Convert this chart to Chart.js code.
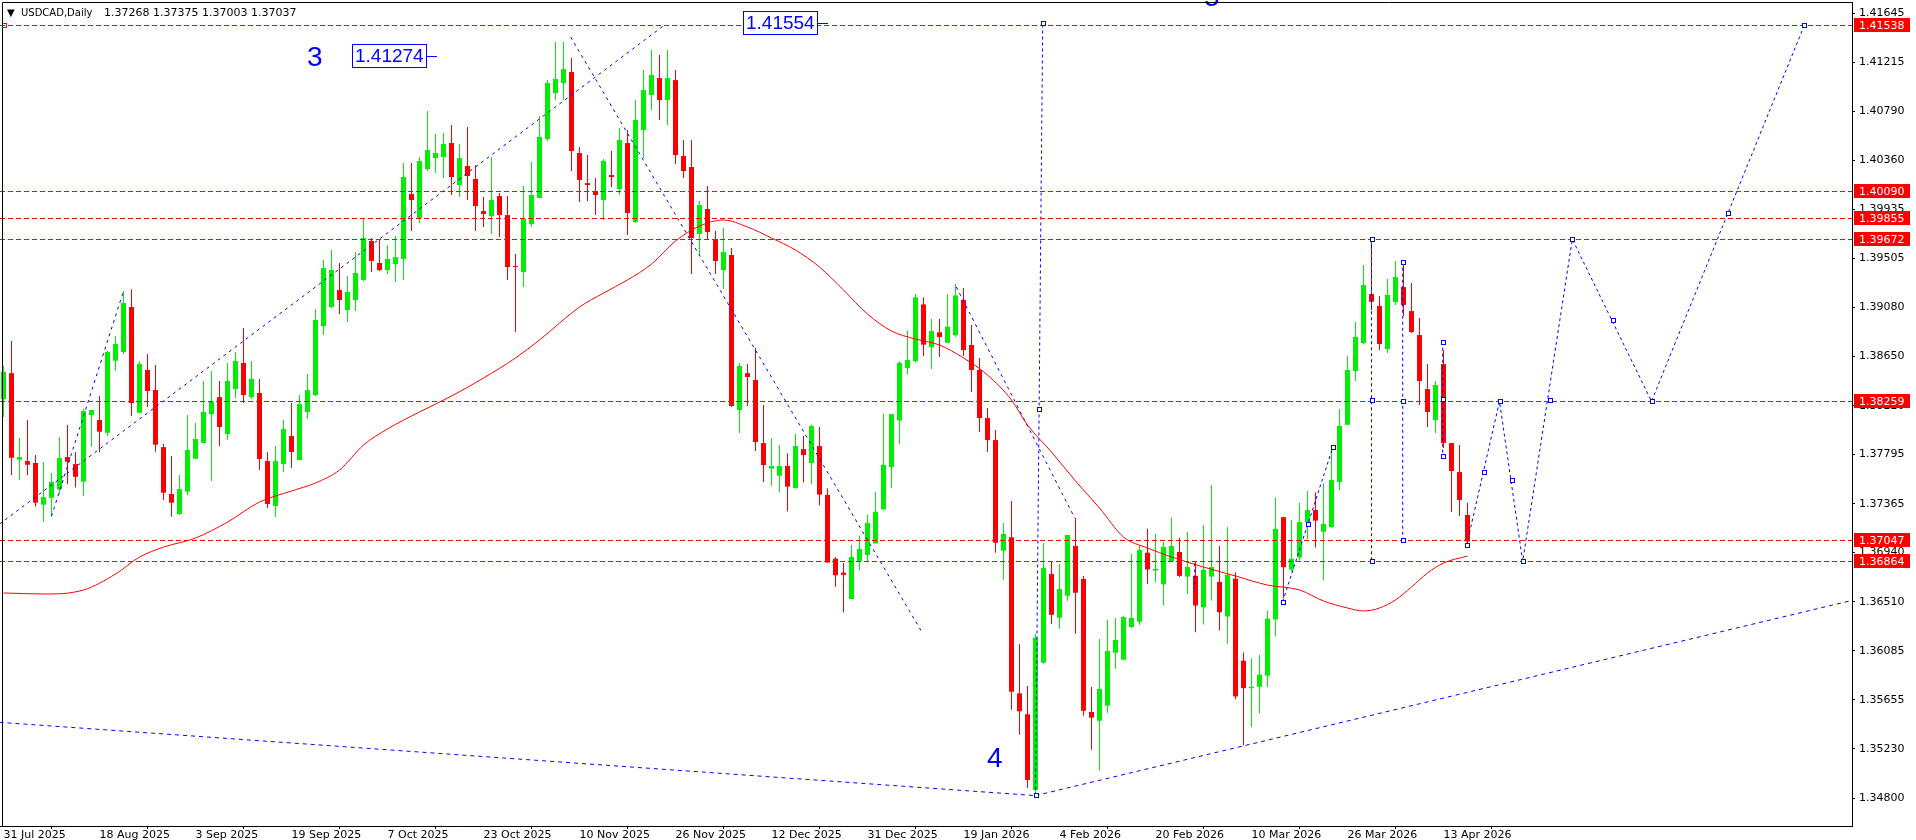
<!DOCTYPE html>
<html>
<head>
<meta charset="utf-8">
<title>USDCAD Daily</title>
<script src="https://cdn.jsdelivr.net/npm/chart.js@4.4.1/dist/chart.umd.min.js"></script>
<style>
html,body{margin:0;padding:0;background:#ffffff;overflow:hidden;}
#box{position:relative;width:1916px;height:840px;}
#c{display:block;}
</style>
</head>
<body>
<div id="box"><canvas id="c" width="1916" height="840"></canvas></div>
<script>
// ---------------- data ----------------
const symbolName = 'USDCAD,Daily';
const symbolPrices = '1.37268 1.37375 1.37003 1.37037';

const opens = [1.38279,1.38505,1.37750,1.37738,1.37721,1.37358,1.37418,1.37492,1.37773,1.37712,
1.37558,1.38139,1.38096,1.37985,1.38613,1.38689,1.39081,1.38159,1.38532,1.38358,
1.37860,1.37451,1.37277,1.37471,1.37758,1.37895,1.38148,1.38296,1.37974,1.38367,
1.38593,1.38296,1.38332,1.37738,1.37346,1.37712,1.37956,1.37747,1.38166,1.38314,
1.38915,1.39081,1.39229,1.39055,1.39142,1.39317,1.39657,1.39465,1.39404,1.39456,
1.39500,1.40066,1.39857,1.40285,1.40380,1.40389,1.40511,1.40145,1.40311,1.40198,
1.39918,1.39874,1.40049,1.39883,1.39439,1.39386,1.39805,1.40032,1.40546,1.40947,
1.41034,1.41130,1.40424,1.40162,1.40093,1.40014,1.40232,1.40110,1.40511,1.39822,
1.40624,1.40930,1.41078,1.40886,1.41060,1.40398,1.40302,1.39718,1.39936,1.39674,
1.39404,1.39535,1.38183,1.38505,1.38445,1.37895,1.37672,1.37610,1.37695,1.37502,
1.37842,1.37721,1.37869,1.37443,1.36886,1.36765,1.36535,1.36867,1.36919,1.37020,
1.37316,1.37685,1.38092,1.38550,1.38609,1.39104,1.38731,1.38861,1.38770,1.38835,
1.39142,1.38750,1.38532,1.38113,1.37921,1.36956,1.37073,1.35713,1.35530,1.34870,
1.35980,1.36753,1.36372,1.36564,1.36997,1.36710,1.35550,1.35474,1.35605,1.36067,
1.36006,1.36291,1.36337,1.36939,1.36783,1.36663,1.36864,1.36945,1.36731,1.36737,
1.36463,1.36731,1.36684,1.36383,1.36712,1.35997,1.35758,1.35770,1.35867,1.36357,
1.37249,1.36793,1.36898,1.37206,1.37311,1.37122,1.37162,1.37555,1.38055,1.38523,
1.38767,1.39195,1.39090,1.38715,1.39125,1.39255,1.39046,1.38837,1.38366,1.38096,
1.38584,1.37895,1.37642,1.37268];
const highs = [1.38569,1.38784,1.37939,1.38096,1.37790,1.37730,1.37633,1.37948,1.38052,1.37817,
1.38194,1.38183,1.38305,1.38698,1.38828,1.39220,1.39237,1.38608,1.38671,1.38575,
1.37886,1.37782,1.37616,1.38139,1.38070,1.38437,1.38524,1.38436,1.38593,1.38689,
1.38898,1.38610,1.38454,1.37817,1.37869,1.38096,1.38244,1.38314,1.38497,1.39064,
1.39491,1.39578,1.39465,1.39352,1.39561,1.39849,1.39683,1.39674,1.39622,1.39700,
1.40337,1.40337,1.40389,1.40790,1.40590,1.40598,1.40668,1.40502,1.40651,1.40320,
1.40040,1.40389,1.40075,1.40049,1.39543,1.40136,1.40346,1.40747,1.41060,1.41392,
1.41392,1.41252,1.40476,1.40406,1.40206,1.40372,1.40441,1.40642,1.40624,1.40886,
1.41148,1.41322,1.41278,1.41322,1.41148,1.40537,1.40537,1.40006,1.40136,1.39744,
1.39770,1.39596,1.38593,1.38584,1.38724,1.38227,1.37937,1.37879,1.37806,1.37974,
1.37957,1.38056,1.38036,1.37502,1.36902,1.36850,1.37008,1.37087,1.37269,1.37469,
1.38151,1.38147,1.38609,1.38878,1.39195,1.39166,1.38976,1.38976,1.39192,1.39281,
1.39247,1.38924,1.38637,1.38200,1.38009,1.37198,1.37390,1.36143,1.35777,1.36233,
1.37023,1.36858,1.36840,1.37093,1.37242,1.36736,1.35768,1.36187,1.36352,1.36370,
1.36387,1.36928,1.37006,1.37147,1.37104,1.37032,1.37249,1.37070,1.37120,1.36861,
1.37181,1.37529,1.36997,1.37162,1.36768,1.36069,1.36016,1.36050,1.36432,1.37420,
1.37249,1.37225,1.37374,1.37476,1.37467,1.37545,1.37834,1.38192,1.38657,1.38950,
1.39447,1.39674,1.39177,1.39325,1.39482,1.39474,1.39290,1.38985,1.38584,1.38436,
1.38706,1.37895,1.37878,1.37375];
const lows = [1.38124,1.37616,1.37575,1.37616,1.37341,1.37210,1.37257,1.37448,1.37537,1.37507,
1.37436,1.37863,1.37815,1.37956,1.38523,1.38671,1.38130,1.38159,1.38209,1.37820,
1.37399,1.37253,1.37268,1.37442,1.37756,1.37895,1.37564,1.37869,1.37921,1.38287,
1.38244,1.38279,1.37660,1.37329,1.37251,1.37642,1.37677,1.37747,1.38104,1.38305,
1.38837,1.39073,1.39020,1.38950,1.39046,1.39308,1.39386,1.39395,1.39369,1.39299,
1.39317,1.39744,1.39814,1.40267,1.40250,1.40206,1.40058,1.40040,1.40014,1.39744,
1.39779,1.39718,1.39692,1.39317,1.38863,1.39255,1.39779,1.40032,1.40529,1.40886,
1.40886,1.40267,1.39997,1.40006,1.39883,1.39840,1.40128,1.40058,1.39709,1.39814,
1.40380,1.40799,1.40712,1.40668,1.40328,1.40206,1.39369,1.39526,1.39665,1.39369,
1.39238,1.38209,1.37983,1.38218,1.37826,1.37555,1.37522,1.37463,1.37299,1.37502,
1.37551,1.37538,1.37352,1.36853,1.36643,1.36418,1.36535,1.36785,1.36867,1.37020,
1.37316,1.37502,1.37885,1.38494,1.38599,1.38652,1.38541,1.38645,1.38770,1.38822,
1.38654,1.38340,1.37991,1.37817,1.36939,1.36703,1.35570,1.35352,1.34887,1.34822,
1.35971,1.36320,1.36276,1.36520,1.36233,1.35518,1.35221,1.35038,1.35544,1.35928,
1.36006,1.36285,1.36311,1.36669,1.36681,1.36479,1.36864,1.36727,1.36582,1.36246,
1.36314,1.36522,1.36261,1.36146,1.35662,1.35261,1.35418,1.35537,1.35767,1.36208,
1.36544,1.36777,1.36870,1.37057,1.36985,1.36697,1.37156,1.37485,1.38055,1.38436,
1.38758,1.39055,1.38706,1.38680,1.39099,1.39003,1.38854,1.38227,1.38035,1.37983,
1.37852,1.37294,1.37259,1.37003];
const closes = [1.38517,1.37767,1.37773,1.37706,1.37375,1.37424,1.37555,1.37764,1.37732,1.37601,
1.38174,1.38183,1.37994,1.38689,1.38758,1.39116,1.38244,1.38584,1.38349,1.37881,
1.37462,1.37375,1.37494,1.37834,1.37930,1.38166,1.38253,1.38035,1.38436,1.38610,
1.38314,1.38454,1.37756,1.37364,1.37738,1.38017,1.37817,1.38235,1.38357,1.38968,
1.39421,1.39404,1.39142,1.39212,1.39378,1.39683,1.39482,1.39404,1.39500,1.39517,
1.40215,1.40014,1.40354,1.40450,1.40424,1.40502,1.40215,1.40380,1.40224,1.39962,
1.39892,1.40014,1.39883,1.39430,1.39430,1.39849,1.40058,1.40564,1.41034,1.41069,
1.41156,1.40441,1.40189,1.40145,1.40058,1.40354,1.40215,1.40537,1.39901,1.40712,
1.40973,1.41104,1.40886,1.41078,1.40406,1.40267,1.39683,1.39971,1.39735,1.39482,
1.39561,1.38218,1.38567,1.38471,1.37904,1.37703,1.37695,1.37695,1.37515,1.37869,
1.37790,1.38043,1.37446,1.36853,1.36742,1.36746,1.36902,1.36972,1.37197,1.37296,
1.37705,1.38147,1.38593,1.38619,1.39166,1.38753,1.38871,1.38819,1.38910,1.39182,
1.38706,1.38532,1.38113,1.37921,1.37026,1.37102,1.35727,1.35556,1.34957,1.36198,
1.36805,1.36398,1.36622,1.37093,1.36590,1.35561,1.35501,1.35751,1.36082,1.36178,
1.36378,1.36370,1.36962,1.36793,1.36799,1.36989,1.36997,1.36737,1.36814,1.36479,
1.36790,1.36814,1.36420,1.36746,1.35686,1.35758,1.35770,1.35876,1.36364,1.37147,
1.36812,1.36886,1.37206,1.37311,1.37219,1.37190,1.37573,1.38044,1.38532,1.38820,
1.39273,1.39127,1.38759,1.39186,1.39343,1.39099,1.38863,1.38436,1.38166,1.38401,
1.37895,1.37651,1.37399,1.37037];

// moving average (at these bar numbers)
const maBars = [0,5,10,14,17,20,24,28,32,36,39,42,45,48,52,56,60,64,67,72,75,78,81,84,87,90,93,96,99,102,105,108,111,114,117,120,123,126,128,131,134,137,140,143,146,150,154,158,162,165,168,170,172,174,176,178,180,183];
const maValues = [1.36588,1.36579,1.36614,1.36753,1.36901,1.36988,1.37067,1.37206,1.37381,1.37477,
1.37547,1.37660,1.37878,1.38018,1.38166,1.38305,1.38462,1.38637,1.38794,1.39081,
1.39203,1.39317,1.39456,1.39657,1.39787,1.39840,1.39779,1.39683,1.39578,1.39430,
1.39229,1.39020,1.38872,1.38802,1.38750,1.38637,1.38488,1.38270,1.38052,1.37817,
1.37564,1.37329,1.37076,1.36980,1.36902,1.36814,1.36736,1.36657,1.36614,1.36518,
1.36457,1.36431,1.36457,1.36527,1.36640,1.36762,1.36849,1.36910];

// axis labels
const dateBars = [0,12,24,36,48,60,72,84,96,108,120,132,144,156,168,180];
const dateLabels = ['31 Jul 2025','18 Aug 2025','3 Sep 2025','19 Sep 2025','7 Oct 2025','23 Oct 2025','10 Nov 2025','26 Nov 2025','12 Dec 2025','31 Dec 2025','19 Jan 2026','4 Feb 2026','20 Feb 2026','10 Mar 2026','26 Mar 2026','13 Apr 2026'];
const priceTicks = [1.41645,1.41215,1.40790,1.40360,1.39935,1.39505,1.39080,1.38650,1.38220,1.37795,1.37365,1.36940,1.36510,1.36085,1.35655,1.35230,1.34800];

// horizontal price levels (red dashed) and their axis boxes
const levels = [1.41538,1.40090,1.39855,1.39672,1.38259,1.37047,1.36864];

// drawn objects: [bar, price] anchors
const trendUp1 = [[-0.5,1.37189],[82.6,1.41538]];
const trendUp2 = [[6,1.37257],[15,1.39220]];
const trendDown1 = [[70.9,1.41435],[114.8,1.36247]];
const trendDown2 = [[119.1,1.39256],[133.9,1.37242]];
const baseLeft = [[-0.5,1.35460],[129,1.34821]];
const baseRight = [[129,1.34821],[231,1.36522]];
const waveVertical = [[129,1.34822],[129.9,1.41554]];
const zigLeft = [[159.9,1.36513],[166.2,1.37865]];
const vert1 = [[171,1.39672],[171,1.36864]];
const vert2 = [[174.9,1.39476],[174.9,1.37047]];
const vert3 = [[179.9,1.38779],[179.9,1.37782]];
const vert4 = [[148.9,1.36846],[148.9,1.36622]];
const zigRight = [[182.9,1.37006],[187,1.38259],[189.9,1.36864],[196.1,1.39672],[206,1.38259],[225.1,1.41538]];
const anchorMarks = [[129,1.34822],[129.45,1.38188],[129.9,1.41554],
  [159.9,1.36513],[163.05,1.37189],[166.2,1.37865],
  [171,1.39672],[171,1.38268],[171,1.36864],
  [174.9,1.39476],[174.9,1.38262],[174.9,1.37047],
  [179.9,1.38779],[179.9,1.38281],[179.9,1.37782],
  [182.9,1.37006],[185,1.37645],[187,1.38259],[188.5,1.37573],[189.9,1.36864],
  [193.3,1.38270],[196.1,1.39672],[201.2,1.38968],[206,1.38259],[215.5,1.39899],[225.1,1.41538]];

// text objects: [text, bar, price]
const waveLabels = [['3',37.9,1.41183],['4',122.9,1.35071],['5',150.1,1.41706]];
const priceTags = [['1.41274',43.6,1.41274],['1.41554',92.4,1.41554]];

// ---------------- chart ----------------
const GREEN = '#00ee00', RED = '#ff0000', BLUE = '#0000ff';
const X_MIN = -0.4375, X_MAX = 231.0625;
const Y_MIN = 1.34556, Y_MAX = 1.41741;
const bars = opens.map((_, i) => i);
const isUp = i => closes[i] >= opens[i];
const candleColor = ctx => isUp(ctx.dataIndex) ? GREEN : RED;
const toXY = arr => arr.map(p => ({x: p[0], y: p[1]}));

const blueLine = (pts, dash) => ({
  type: 'line', data: toXY(pts), borderColor: BLUE, borderWidth: 1,
  borderDash: dash, pointRadius: 0, fill: false, tension: 0, order: 1
});

const datasets = [
  { type: 'line', label: 'MA', data: maBars.map((b, k) => ({x: b, y: maValues[k]})),
    borderColor: RED, borderWidth: 1, pointRadius: 0, fill: false,
    cubicInterpolationMode: 'monotone', order: 0 },
  blueLine(trendUp1, [3,4]), blueLine(trendUp2, [3,4]),
  blueLine(trendDown1, [3,4]), blueLine(trendDown2, [3,4]),
  blueLine(baseLeft, [4,4]), blueLine(baseRight, [4,4]),
  blueLine(waveVertical, [3,3]), blueLine(zigLeft, [3,3]),
  blueLine(vert1, [3,3]), blueLine(vert2, [3,3]), blueLine(vert3, [3,3]), blueLine(vert4, [3,3]),
  blueLine(zigRight, [3,3]),
  { type: 'bar', label: 'body', data: bars.map(i => ({x: i, y: [opens[i], closes[i]]})),
    backgroundColor: candleColor, borderWidth: 0, maxBarThickness: 5, minBarLength: 1,
    grouped: false, order: 5 },
  { type: 'bar', label: 'wick', data: bars.map(i => ({x: i, y: [lows[i], highs[i]]})),
    backgroundColor: candleColor, borderWidth: 0, maxBarThickness: 1,
    grouped: false, order: 6 }
];

const overlay = {
  id: 'overlay',
  afterDatasetsDraw(chart) {
    const {ctx, chartArea: a, scales: {x, y}} = chart;
    ctx.save();
    ctx.beginPath(); ctx.rect(a.left, a.top, a.right - a.left, a.bottom - a.top); ctx.clip();
    ctx.strokeStyle = RED; ctx.lineWidth = 1; ctx.setLineDash([5,3]);
    levels.forEach(v => {
      const py = Math.round(y.getPixelForValue(v)) + 0.5;
      ctx.beginPath(); ctx.moveTo(a.left, py); ctx.lineTo(a.right, py); ctx.stroke();
    });
    ctx.setLineDash([]);
    const ly = Math.round(y.getPixelForValue(levels[0]));
    ctx.strokeRect(2.5, ly - 1.5, 4, 4);
    ctx.strokeStyle = BLUE; ctx.fillStyle = '#ffffff';
    anchorMarks.forEach(([b, v]) => {
      const px = Math.round(x.getPixelForValue(b)), py = Math.round(y.getPixelForValue(v));
      ctx.fillRect(px - 2, py - 2, 5, 5);
      ctx.strokeRect(px - 1.5, py - 1.5, 4, 4);
    });
    ctx.font = '19px "Liberation Sans", Arial, sans-serif';
    ctx.textBaseline = 'middle'; ctx.textAlign = 'left';
    priceTags.forEach(([t, b, v]) => {
      const px = Math.round(x.getPixelForValue(b)), py = Math.round(y.getPixelForValue(v));
      const w = 74, h = 23;
      ctx.fillStyle = '#ffffff';
      ctx.fillRect(px, py - 11, w, h);
      ctx.strokeStyle = BLUE; ctx.lineWidth = 1;
      ctx.strokeRect(px + 0.5, py - 11.5, w, h);
      ctx.beginPath(); ctx.moveTo(px + w + 1, py + 0.5); ctx.lineTo(px + w + 11, py + 0.5); ctx.stroke();
      ctx.fillStyle = BLUE;
      ctx.fillText(t, px + 3, py + 1);
    });
    ctx.restore();
  },
  afterDraw(chart) {
    const {ctx, chartArea: a, scales: {x, y}} = chart;
    ctx.save();
    ctx.fillStyle = BLUE; ctx.textAlign = 'left'; ctx.textBaseline = 'alphabetic';
    ctx.font = '28px "Liberation Sans", Arial, sans-serif';
    waveLabels.forEach(([t, b, v]) => {
      ctx.fillText(t, Math.round(x.getPixelForValue(b)), Math.round(y.getPixelForValue(v)));
    });
    ctx.strokeStyle = '#000000'; ctx.lineWidth = 1;
    ctx.beginPath();
    ctx.moveTo(2.5, a.bottom); ctx.lineTo(2.5, 2.5); ctx.lineTo(a.right, 2.5);
    ctx.stroke();
    ctx.font = '11px "DejaVu Sans", sans-serif';
    ctx.textBaseline = 'middle';
    levels.forEach(v => {
      const py = Math.round(y.getPixelForValue(v));
      ctx.fillStyle = RED;
      ctx.fillRect(a.right + 2, py - 7, 56, 14);
      ctx.fillStyle = '#ffffff';
      ctx.fillText(v.toFixed(5), a.right + 7, py + 1);
    });
    ctx.fillStyle = '#000000';
    ctx.font = '10px "DejaVu Sans", sans-serif';
    ctx.fillText('\u25BC', 7, 13);
    ctx.fillText(symbolName, 21, 13);
    ctx.font = '11px "DejaVu Sans", sans-serif';
    ctx.fillText(symbolPrices, 104, 13);
    ctx.restore();
  }
};

new Chart(document.getElementById('c'), {
  type: 'bar',
  data: { datasets },
  plugins: [overlay],
  options: {
    responsive: false, animation: false, devicePixelRatio: 1, events: [],
    layout: { padding: { top: 2, left: 0, right: 0, bottom: 0 } },
    plugins: { legend: { display: false }, tooltip: { enabled: false } },
    scales: {
      x: {
        type: 'linear', position: 'bottom', min: X_MIN, max: X_MAX, offset: false,
        afterBuildTicks: s => { s.ticks = dateBars.map(v => ({ value: v })); },
        afterFit: s => { s.height = 14; s.paddingLeft = 0; s.paddingRight = 0; },
        ticks: {
          autoSkip: false, maxRotation: 0, minRotation: 0, align: 'start', padding: 0,
          color: '#000000', font: { family: 'DejaVu Sans', size: 11 },
          callback: v => { const k = dateBars.indexOf(v); return k >= 0 ? dateLabels[k] : ''; }
        },
        grid: { drawOnChartArea: false, drawTicks: true, tickLength: 3, color: '#000000' },
        border: { display: true, color: '#000000' }
      },
      y: {
        type: 'linear', position: 'right', min: Y_MIN, max: Y_MAX,
        afterBuildTicks: s => { s.ticks = priceTicks.map(v => ({ value: v })); },
        afterFit: s => { s.width = 64; s.paddingTop = 0; s.paddingBottom = 0; },
        ticks: {
          autoSkip: false, color: '#000000', padding: 4,
          font: { family: 'DejaVu Sans', size: 11 },
          callback: v => Number(v).toFixed(5)
        },
        grid: { drawOnChartArea: false, drawTicks: true, tickLength: 3, color: '#000000' },
        border: { display: true, color: '#000000' }
      }
    }
  }
});
</script>
</body>
</html>
